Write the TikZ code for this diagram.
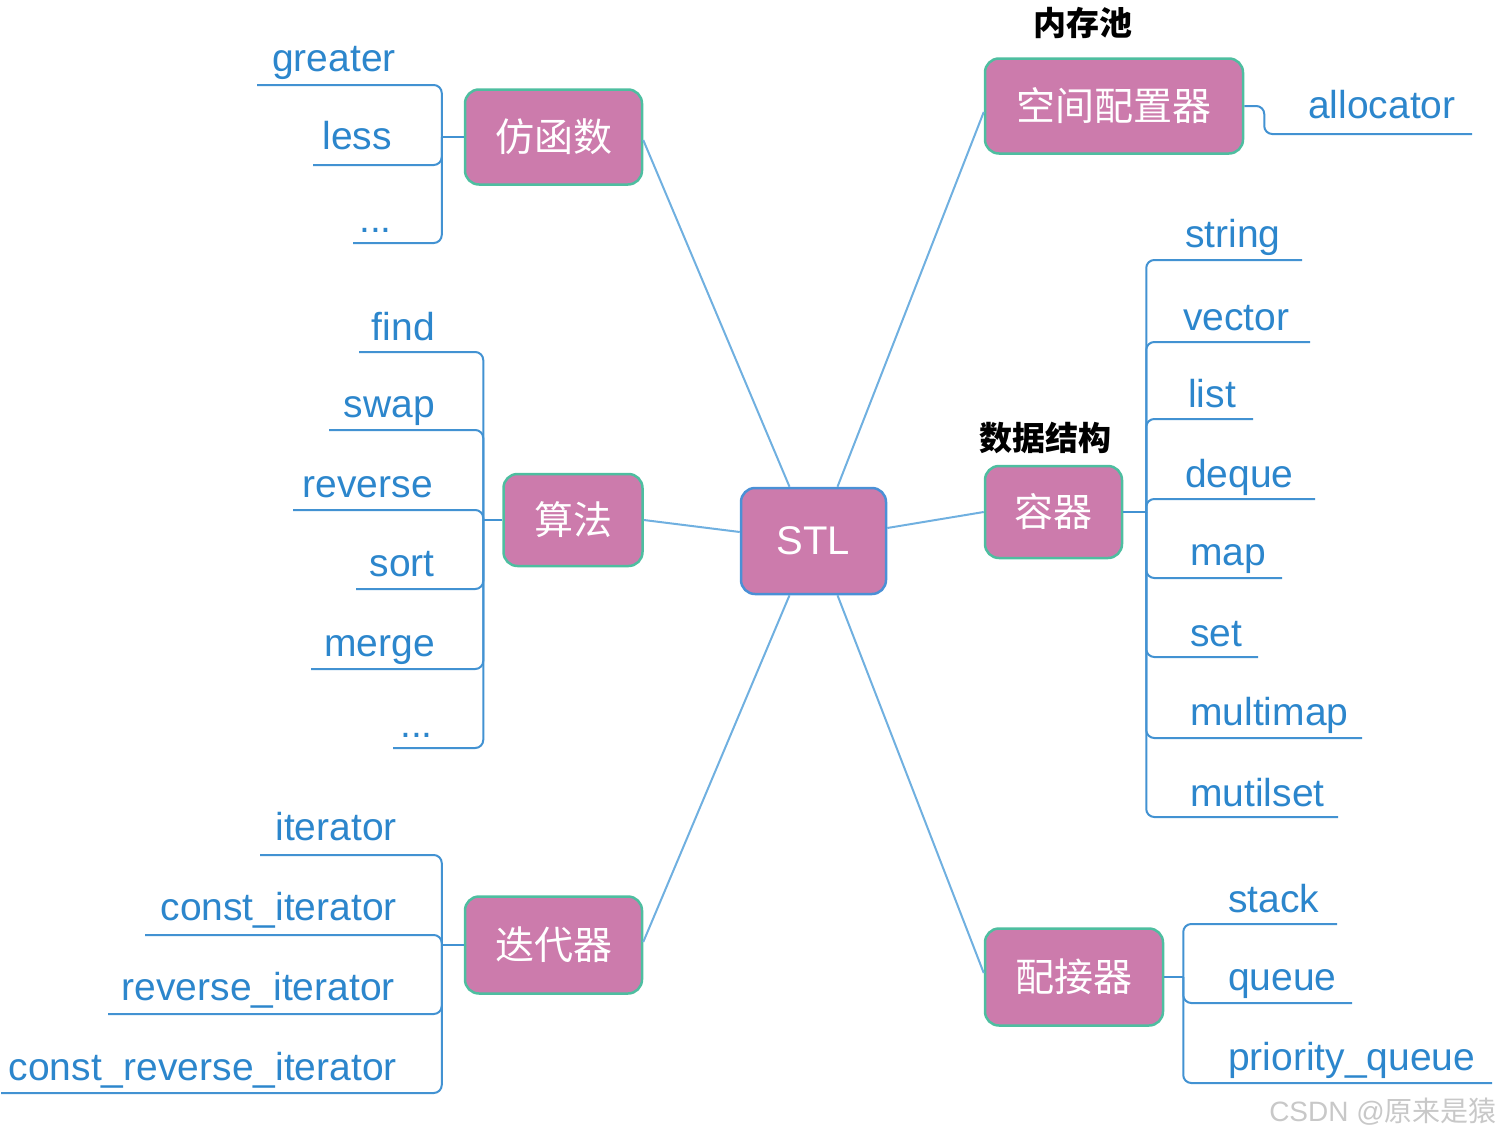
\documentclass[tikz,border=0pt]{standalone}
\usepackage{fontspec}
\setmainfont{Liberation Sans}
\newfontfamily\cjk{Noto Sans CJK SC}
\definecolor{boxfill}{RGB}{204,123,172}
\definecolor{boxteal}{RGB}{78,190,160}
\definecolor{stlblue}{RGB}{74,144,214}
\definecolor{leafblue}{RGB}{44,134,204}
\definecolor{leafline}{RGB}{66,146,210}
\definecolor{conblue}{RGB}{112,176,224}
\definecolor{wmgray}{RGB}{200,200,200}
\begin{document}
\begin{tikzpicture}[x=1pt,y=-1pt,
  boxs/.style={draw=boxteal, line width=2.5pt, fill=boxfill, rounded corners=14pt,
    text=white, font=\cjk\fontsize{39}{44}\selectfont, inner sep=0pt},
  stlbox/.style={boxs, draw=stlblue, font=\fontsize{40}{46}\selectfont},
  leafl/.style={font=\fontsize{39}{46}\selectfont, text=leafblue, inner sep=0pt, anchor=base east},
  leafr/.style={leafl, anchor=base west},
  leafpath/.style={draw=leafline, line width=2pt, rounded corners=8pt},
  stub/.style={draw=leafline, line width=2pt},
  conn/.style={draw=conblue, line width=2pt},
  tag/.style={font=\cjk\bfseries\fontsize{33}{38}\selectfont, text=black, inner sep=0pt}]
\useasboundingbox (0,0) rectangle (1502,1138);

% central and main boxes
\node[stlbox, minimum width=145pt, minimum height=106pt] (stl) at (813.5,541) {STL};
\node[boxs, minimum width=177pt, minimum height=95pt] (fh) at (553.5,137) {仿函数};
\node[boxs, minimum width=139pt, minimum height=92pt] (sf) at (573,520) {算法};
\node[boxs, minimum width=177pt, minimum height=97pt] (ddq) at (553.5,945) {迭代器};
\node[boxs, minimum width=258pt, minimum height=95pt] (kj) at (1114,106) {空间配置器};
\node[boxs, minimum width=137pt, minimum height=92pt] (rq) at (1053.5,512) {容器};
\node[boxs, minimum width=178pt, minimum height=97pt] (pj) at (1074,977) {配接器};

\node[tag] (ncc) at (1083,23) {内存池};
\node[tag] (sjjg) at (1045,438) {数据结构};

% connectors from STL
\draw[conn] ([xshift=-24pt]stl.north) -- ([yshift=-3pt]fh.east);
\draw[conn] ([xshift=24pt]stl.north) -- ([yshift=-6pt]kj.west);
\draw[conn] ([yshift=9pt]stl.west) -- (sf.east);
\draw[conn] ([yshift=13pt]stl.east) -- (rq.west);
\draw[conn] ([xshift=-24pt]stl.south) -- ([yshift=3pt]ddq.east);
\draw[conn] ([xshift=24pt]stl.south) -- ([yshift=4pt]pj.west);

% 仿函数 leaves
\coordinate (fhj) at ([xshift=-22pt]fh.west);
\node[leafl] (greater) at (396,71) {greater};
\node[leafl] (less) at (392,149) {less};
\node[leafl] (fhdots) at (392,232) {...};
\coordinate (greater-l) at (257,85);
\coordinate (less-l) at (313,165);
\coordinate (fhdots-l) at (353,243);
\draw[stub] (fh.west) -- (fhj);
\foreach \n in {greater-l,less-l,fhdots-l} \draw[leafpath] (\n) -| (fhj);

% 算法 leaves
\coordinate (sfj) at ([xshift=-19pt]sf.west);
\node[leafl] (find) at (435,340) {find};
\node[leafl] (swap) at (435,417) {swap};
\node[leafl] (reverse) at (433,497) {reverse};
\node[leafl] (sort) at (435,576) {sort};
\node[leafl] (merge) at (435,656) {merge};
\node[leafl] (sfdots) at (433,737) {...};
\coordinate (find-l) at (359,352);
\coordinate (swap-l) at (329,430);
\coordinate (reverse-l) at (293,510);
\coordinate (sort-l) at (356,589);
\coordinate (merge-l) at (311,669);
\coordinate (sfdots-l) at (393,748);
\draw[stub] (sf.west) -- (sfj);
\foreach \n in {find-l,swap-l,reverse-l,sort-l,merge-l,sfdots-l} \draw[leafpath] (\n) -| (sfj);

% 迭代器 leaves
\coordinate (ddqj) at ([xshift=-22pt]ddq.west);
\node[leafl] (it) at (397,840) {iterator};
\node[leafl] (cit) at (397,920) {const\_iterator};
\node[leafl] (rit) at (395,1000) {reverse\_iterator};
\node[leafl] (crit) at (397,1080) {const\_reverse\_iterator};
\coordinate (it-l) at (260,855);
\coordinate (cit-l) at (145,935);
\coordinate (rit-l) at (108,1014);
\coordinate (crit-l) at (1,1093);
\draw[stub] (ddq.west) -- (ddqj);
\foreach \n in {it-l,cit-l,rit-l,crit-l} \draw[leafpath] (\n) -| (ddqj);

% 空间配置器 leaf
\node[leafr] (alloc) at (1308,118) {allocator};
\coordinate (alloc-r) at (1472,134);
\coordinate (kjj) at ([xshift=20pt]kj.east);
\draw[leafpath] (kj.east) -- (kjj) |- (alloc-r);

% 容器 leaves
\coordinate (rqj) at ([xshift=23pt]rq.east);
\node[leafr] (string) at (1185,247) {string};
\node[leafr] (vector) at (1183,330) {vector};
\node[leafr] (list) at (1188,407) {list};
\node[leafr] (deque) at (1185,487) {deque};
\node[leafr] (map) at (1190,565) {map};
\node[leafr] (set) at (1190,646) {set};
\node[leafr] (multimap) at (1190,725) {multimap};
\node[leafr] (mutilset) at (1190,806) {mutilset};
\coordinate (string-r) at (1302,260);
\coordinate (vector-r) at (1310,342);
\coordinate (list-r) at (1253,419);
\coordinate (deque-r) at (1315,499);
\coordinate (map-r) at (1282,578);
\coordinate (set-r) at (1258,657);
\coordinate (multimap-r) at (1362,738);
\coordinate (mutilset-r) at (1338,817);
\draw[stub] (rq.east) -- (rqj);
\foreach \n in {string-r,vector-r,list-r,deque-r,map-r,set-r,multimap-r,mutilset-r} \draw[leafpath] (\n) -| (rqj);

% 配接器 leaves
\coordinate (pjj) at ([xshift=19pt]pj.east);
\node[leafr] (stack) at (1228,912) {stack};
\node[leafr] (queue) at (1228,990) {queue};
\node[leafr] (pq) at (1228,1070) {priority\_queue};
\coordinate (stack-r) at (1337,924);
\coordinate (queue-r) at (1352,1003);
\coordinate (pq-r) at (1492,1083);
\draw[stub] (pj.east) -- (pjj);
\foreach \n in {stack-r,queue-r,pq-r} \draw[leafpath] (\n) -| (pjj);

% watermark
\node[anchor=east, inner sep=0pt, text=wmgray, font=\fontsize{28}{32}\selectfont] (wm) at (1497,1112) {CSDN @{\cjk 原来是猿}};
\end{tikzpicture}
\end{document}
